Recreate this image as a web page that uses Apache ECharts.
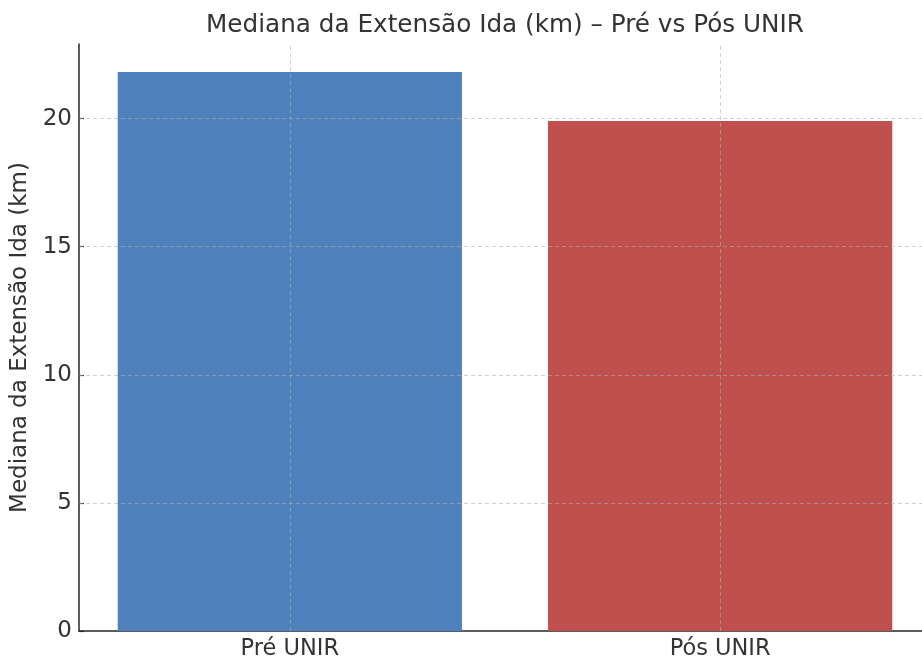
<!DOCTYPE html>
<html>
<head>
<meta charset="utf-8">
<script src="https://cdn.jsdelivr.net/npm/echarts@6/dist/echarts.min.js"></script>
<style>
  html, body { margin: 0; padding: 0; background: #fff; overflow: hidden; }
  #chart { width: 922px; height: 658px; }
</style>
</head>
<body>
<div id="chart"></div>
<script>
// Median outbound route length (km), before and after UNIR
const categories = ['Pré UNIR', 'Pós UNIR'];
const medianKm = [21.82, 19.91];
const barColors = ['#4f81bd', '#c0504d'];
const yTicks = [0, 5, 10, 15, 20];

const FONT = 'DejaVu Sans';
const TEXT = '#333333';
const AXIS = '#262626';
const GRID = 'rgba(176,176,176,0.6)';

// category positions on a numeric x scale, padded like a default bar plot
const xPos = categories.map((_, i) => i);
const yMax = Math.max(...medianKm) * 1.05;

const chart = echarts.init(document.getElementById('chart'), null, { renderer: 'canvas' });

chart.setOption({
  animation: false,
  backgroundColor: '#ffffff',
  title: {
    text: 'Mediana da Extensão Ida (km) – Pré vs Pós UNIR',
    left: 500,
    textAlign: 'center',
    top: 8,
    textStyle: { fontFamily: FONT, fontSize: 24.7, fontWeight: 'normal', color: TEXT }
  },
  // the plot runs slightly past the right edge of the canvas
  grid: { left: 79, top: 44, width: 852, height: 587, containLabel: false, outerBoundsMode: 'none' },
  xAxis: {
    type: 'value',
    min: -0.49,
    max: 1.49,
    axisLine: { show: true, onZero: false, lineStyle: { color: AXIS, width: 1.5 } },
    axisTick: { show: true, inside: true, customValues: xPos, length: 5, lineStyle: { color: AXIS, width: 1.2 } },
    axisLabel: {
      customValues: xPos,
      formatter: v => categories[Math.round(v)] || '',
      fontFamily: FONT, fontSize: 22.5, color: TEXT, margin: 7
    },
    splitLine: { show: false }
  },
  yAxis: {
    type: 'value',
    min: 0,
    max: yMax,
    name: 'Mediana da Extensão Ida (km)',
    nameLocation: 'middle',
    nameGap: 37,
    nameTextStyle: { fontFamily: FONT, fontSize: 23, color: TEXT },
    axisLine: { show: true, onZero: false, lineStyle: { color: AXIS, width: 1.5 } },
    axisTick: { show: true, inside: true, customValues: yTicks, length: 5, lineStyle: { color: AXIS, width: 1.2 } },
    axisLabel: {
      customValues: yTicks,
      fontFamily: FONT, fontSize: 23, color: TEXT, margin: 7
    },
    splitLine: { show: false }
  },
  series: [
    {
      type: 'bar',
      barWidth: '80%',
      data: medianKm.map((v, i) => ({
        value: [xPos[i], v],
        itemStyle: { color: barColors[i] }
      })),
      z: 2
    },
    {
      // dashed grid drawn over the bars
      type: 'line',
      data: [],
      z: 5,
      silent: true,
      markLine: {
        silent: true,
        symbol: 'none',
        label: { show: false },
        lineStyle: { color: GRID, type: [4, 3], width: 1 },
        data: yTicks.filter(v => v > 0).map(v => ({ yAxis: v }))
          .concat(xPos.map(v => ({ xAxis: v })))
      }
    }
  ]
});
</script>
</body>
</html>
